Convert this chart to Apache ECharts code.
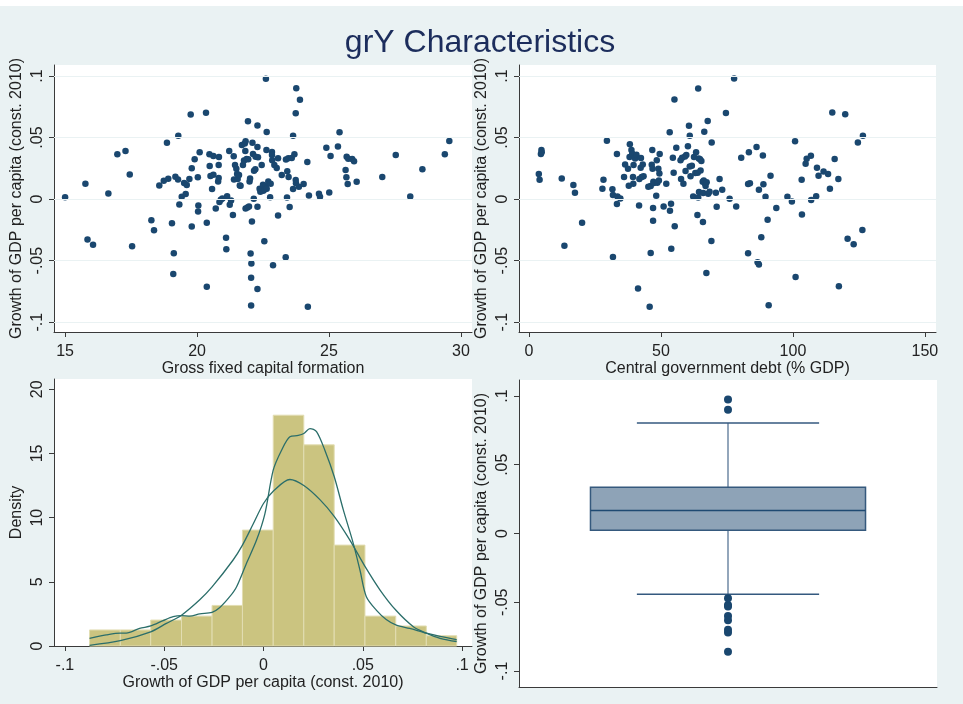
<!DOCTYPE html>
<html>
<head>
<meta charset="utf-8">
<script src="https://cdn.jsdelivr.net/npm/echarts@6/dist/echarts.min.js"></script>
<style>
  html, body { margin: 0; padding: 0; background: #fff; }
  #chart { width: 963px; height: 704px; }
</style>
</head>
<body>
<div id="chart"></div>
<script>
// ---- data ----
// panel 1: gross fixed capital formation vs growth
const capFormation = [15.00,15.77,15.85,16.06,16.64,16.98,17.29,17.45,17.54,18.27,18.37,18.57,18.74,18.86,18.91,19.05,19.12,19.10,19.18,19.28,19.29,19.33,19.42,19.51,19.57,19.61,19.71,19.76,19.80,19.80,19.91,20.03,20.05,20.04,20.10,20.34,20.37,20.37,20.47,20.48,20.51,20.57,20.62,20.62,20.71,20.80,20.82,20.83,20.82,20.85,20.90,20.96,21.10,21.11,21.14,21.22,21.24,21.29,21.36,21.39,21.40,21.44,21.49,21.52,21.54,21.59,21.62,21.65,21.70,21.74,21.78,21.81,21.83,21.84,21.84,21.88,21.91,21.93,21.94,21.97,21.99,22.01,22.03,22.05,22.06,22.05,22.08,22.10,22.12,22.15,22.16,22.21,22.22,22.29,22.29,22.29,22.29,22.31,22.37,22.40,22.45,22.47,22.50,22.51,22.55,22.56,22.59,22.61,22.63,22.64,22.64,22.70,22.77,22.79,22.84,22.84,22.85,22.88,22.93,23.02,23.07,23.07,23.21,23.36,23.37,23.41,23.42,23.46,23.47,23.51,23.59,23.64,23.64,23.69,23.74,23.74,23.76,23.75,23.86,23.90,24.04,24.18,24.20,24.24,24.62,24.66,24.90,25.01,25.06,25.34,25.40,25.63,25.66,25.67,25.71,25.73,25.88,25.95,26.05,27.02,27.53,28.08,28.54,29.39,29.56];
const growthByCap = [0.0016,0.0125,-0.0329,-0.0370,0.0046,0.0364,0.0391,0.0201,-0.0383,-0.0171,-0.0253,0.0111,0.0149,0.0459,0.0166,-0.0196,-0.0440,-0.0609,0.0182,0.0160,0.0514,-0.0043,0.0019,0.0130,0.0041,0.0114,0.0163,0.0688,0.0250,-0.0223,0.0323,0.0177,-0.0052,-0.0101,0.0380,0.0701,-0.0193,-0.0712,0.0364,0.0269,0.0188,0.0082,0.0351,0.0198,-0.0076,0.0144,0.0277,0.0342,0.0171,-0.0024,-0.0005,0.0005,-0.0313,-0.0408,0.0024,0.0391,-0.0046,-0.0011,-0.0130,0.0348,0.0160,0.0277,0.0247,0.0204,0.0163,0.0196,0.0111,0.0109,0.0440,0.0277,0.0313,0.0451,0.0391,0.0470,-0.0076,0.0326,-0.0068,0.0633,0.0323,-0.0060,0.0144,0.0168,-0.0443,-0.0639,-0.0524,-0.0864,-0.0182,0.0459,0.0367,0.0003,0.0231,0.0242,0.0345,0.0598,0.0424,-0.0063,-0.0731,0.0340,0.0084,0.0060,0.0277,0.0082,0.0117,0.0068,-0.0342,0.0079,0.0106,0.0978,0.0399,0.0084,0.0546,0.0144,0.0016,0.0125,0.0383,0.0359,0.0315,-0.0538,0.0277,0.0253,-0.0133,0.0332,0.0196,-0.0473,0.0321,0.0014,0.0226,0.0332,0.0179,-0.0065,0.0334,0.0514,0.0082,0.0364,0.0155,0.0698,0.0902,0.0128,0.0101,0.0807,0.0122,0.0302,-0.0875,0.0030,0.0043,0.0019,0.0418,0.0054,0.0351,0.0427,0.0543,0.0236,0.0177,0.0345,0.0122,0.0329,0.0326,0.0307,0.0141,0.0179,0.0359,0.0022,0.0242,0.0364,0.0473];

// panel 2: central government debt vs growth
const govDebt = [3.7,4.0,4.5,4.7,4.8,12.4,13.4,16.8,17.4,20.1,27.8,28.2,29.5,31.6,31.8,31.8,33.3,33.3,33.5,34.6,36.0,36.4,37.5,37.8,38.1,38.2,38.8,39.1,39.4,39.5,39.6,40.2,40.7,41.3,41.7,41.8,42.3,42.4,42.7,43.1,43.4,45.2,45.7,46.1,46.1,46.5,46.7,46.8,47.0,47.0,47.1,47.3,48.2,48.4,48.6,49.0,49.2,49.4,49.5,51.0,52.0,53.3,53.4,53.8,53.9,54.5,54.8,55.1,55.2,55.8,57.4,57.6,58.0,58.5,59.1,59.3,59.6,60.2,60.6,60.9,60.9,61.2,61.7,62.2,62.5,63.0,63.3,63.8,63.9,64.1,64.1,64.3,64.4,64.8,65.0,65.3,65.8,65.9,66.0,66.2,66.4,66.7,66.9,67.2,67.3,67.7,67.9,68.4,69.1,69.2,70.8,71.1,72.2,73.2,74.6,76.0,77.7,78.5,80.4,83.0,83.0,83.3,83.7,86.2,86.6,87.1,87.1,88.0,88.6,88.8,89.6,90.4,90.8,91.5,93.7,97.9,99.6,100.8,101.0,103.3,103.4,104.8,105.2,106.8,106.9,108.8,109.1,109.7,111.6,113.3,114.0,114.9,115.8,117.2,117.4,119.8,120.7,123.0,124.6,126.3,126.5];
const growthByDebt = [0.0204,0.0157,0.0366,0.0400,0.0380,0.0168,-0.0380,0.0114,0.0052,-0.0193,0.0084,0.0157,0.0475,0.0081,-0.0470,0.0033,0.0366,-0.0040,0.0022,0.0005,0.0179,0.0282,0.0247,0.0109,0.0342,0.0445,0.0400,0.0369,0.0179,0.0125,0.0277,0.0330,0.0360,-0.0727,-0.0052,0.0163,0.0255,0.0334,0.0179,0.0282,0.0185,0.0100,-0.0874,-0.0437,0.0106,0.0280,0.0400,0.0247,-0.0073,-0.0176,0.0141,0.0130,0.0027,0.0315,0.0133,0.0247,0.0152,0.0209,0.0366,-0.0060,0.0125,0.0543,-0.0095,-0.0038,-0.0404,0.0336,0.0214,0.0810,-0.0220,0.0418,0.0315,0.0163,0.0336,0.0125,0.0347,0.0228,0.0358,0.0429,0.0597,0.0266,0.0516,0.0185,0.0271,0.0022,0.0342,0.0212,0.0380,-0.0130,0.0214,0.0900,0.0014,0.0330,0.0057,0.0323,0.0233,0.0310,0.0141,-0.0187,0.0049,0.0152,0.0548,0.0125,0.0106,-0.0600,0.0138,0.0635,0.0043,0.0060,-0.0340,0.0461,0.0052,-0.0062,0.0163,0.0076,0.0700,0.0003,0.0980,-0.0060,0.0336,-0.0440,0.0122,0.0380,0.0128,0.0423,-0.0513,-0.0532,0.0076,-0.0310,0.0355,0.0120,0.0019,-0.0168,-0.0863,0.0190,-0.0073,0.0019,-0.0019,0.0470,-0.0632,0.0157,-0.0125,0.0288,0.0328,0.0353,-0.0008,0.0024,0.0255,0.0190,0.0225,0.0204,0.0084,0.0703,0.0326,0.0163,-0.0708,0.0690,-0.0323,-0.0366,0.0461,-0.0250,0.0516];

// panel 3: histogram of growth with density curves
const histEdges = [-0.0876,-0.0721,-0.0568,-0.0413,-0.0259,-0.0106,0.0049,0.0203,0.0356,0.0511,0.0666,0.0820,0.0973];
const histDensity = [1.25,1.25,2.02,2.33,3.16,9.03,17.98,15.67,7.86,2.33,1.56,0.80];
const normalX = [-0.0876,-0.0721,-0.0568,-0.0489,-0.0413,-0.0321,-0.0259,-0.0153,-0.0106,-0.0052,0.0,0.0049,0.0133,0.0203,0.0284,0.0356,0.0435,0.0511,0.0587,0.0666,0.0755,0.0820,0.0889,0.0973];
const normalY = [0.05,0.41,1.10,1.76,2.40,3.60,4.60,6.70,7.86,9.50,11.10,12.06,12.97,12.50,11.40,10.10,8.25,6.20,4.36,2.80,1.50,1.00,0.60,0.35];
const kernelX = [-0.0876,-0.0792,-0.0721,-0.0691,-0.0624,-0.0568,-0.0506,-0.0455,-0.0413,-0.0371,-0.0321,-0.0259,-0.0220,-0.0170,-0.0136,-0.0086,-0.0035,0.0007,0.0049,0.0091,0.0133,0.0175,0.0203,0.0234,0.0267,0.0309,0.0356,0.0402,0.0452,0.0486,0.0518,0.0568,0.0618,0.0669,0.0736,0.0820,0.0889,0.0973];
const kernelY = [0.60,0.86,1.00,1.00,1.37,1.56,1.97,2.28,2.36,2.33,2.50,2.62,3.00,3.84,4.60,6.43,8.25,10.30,13.70,15.25,16.30,16.40,16.55,16.94,16.70,15.25,13.20,10.60,8.00,5.90,3.84,2.80,2.07,1.63,1.37,1.00,0.75,0.50];

// panel 4: box plot of growth
const boxStats = [-0.0442, 0.0024, 0.0167, 0.0336, 0.0804]; // lower whisker, q1, median, q3, upper whisker
const boxOutliers = [0.0974, 0.0900, -0.0470, -0.0520, -0.0530, -0.0600, -0.0630, -0.0700, -0.0720, -0.0860];

const growthTitle = 'Growth of GDP per capita (const. 2010)';

const FONT = 'Liberation Sans, Arial, sans-serif';
const NAVY = '#1a476f';
const AXIS = '#3a3a3a';
const GRIDC = '#eaf2f3';

const stataNum = v => {
  const r = Math.round(v * 1000) / 1000;
  if (r === 0) return '0';
  return String(r).replace(/^(-?)0\./, '$1.');
};

const growthTicks = [-0.1, -0.05, 0, 0.05, 0.1];

function xAx(grid, min, max, ticks, name, opts) {
  return Object.assign({
    type: 'value', gridIndex: grid, min, max,
    name, nameLocation: 'middle', nameGap: 29,
    nameTextStyle: { fontSize: 16, color: '#222', fontFamily: FONT },
    axisLine: { show: true, onZero: false, lineStyle: { color: AXIS, width: 1 } },
    axisTick: { show: true, length: 5, customValues: ticks, lineStyle: { color: AXIS } },
    axisLabel: { customValues: ticks, formatter: stataNum, fontSize: 16, color: '#222', fontFamily: FONT, margin: 12 },
    splitLine: { show: false }
  }, opts || {});
}
function yAx(grid, min, max, ticks, name) {
  return {
    type: 'value', gridIndex: grid, min, max,
    name, nameLocation: 'middle', nameGap: 29, nameRotate: 90,
    nameTextStyle: { fontSize: 16, color: '#222', fontFamily: FONT },
    axisLine: { show: true, onZero: false, lineStyle: { color: AXIS, width: 1 } },
    axisTick: { show: true, length: 5, customValues: ticks, lineStyle: { color: AXIS } },
    axisLabel: { customValues: ticks, formatter: stataNum, rotate: 90, fontSize: 16, color: '#222', fontFamily: FONT, margin: 8 },
    splitLine: { show: false }
  };
}
function gridLines(xi, yi, vals) {
  return {
    type: 'line', xAxisIndex: xi, yAxisIndex: yi, data: [], z: 1, silent: true,
    markLine: {
      silent: true, symbol: 'none', label: { show: false },
      lineStyle: { color: GRIDC, width: 1.2, type: 'solid' },
      data: vals.map(v => ({ yAxis: v }))
    }
  };
}

const chart = echarts.init(document.getElementById('chart'));

const option = {
  backgroundColor: '#eaf2f3',
  animation: false,
  title: {
    text: 'grY Characteristics', left: 475, top: 22, textAlign: 'center',
    textStyle: { fontSize: 32, fontWeight: 'normal', color: '#1c2d5c', fontFamily: FONT }
  },
  graphic: [{ type: 'rect', shape: { x: 0, y: 0, width: 963, height: 6 }, style: { fill: '#fff' }, silent: true }],
  grid: [
    { left: 54, top: 65, width: 418, height: 267, show: true, backgroundColor: '#fff', borderWidth: 0 },
    { left: 519, top: 65, width: 417, height: 267, show: true, backgroundColor: '#fff', borderWidth: 0 },
    { left: 54, top: 379, width: 418, height: 267, show: true, backgroundColor: '#fff', borderWidth: 0 },
    { left: 519, top: 380, width: 418, height: 307, show: true, backgroundColor: '#fff', borderWidth: 0 }
  ],
  xAxis: [
    xAx(0, 14.58, 30.42, [15, 20, 25, 30], 'Gross fixed capital formation'),
    xAx(1, -3.8, 154.2, [0, 50, 100, 150], 'Central government debt (% GDP)'),
    xAx(2, -0.1055, 0.105, growthTicks, growthTitle),
    xAx(3, 0, 1, [], '', { axisTick: { show: false }, axisLabel: { show: false } })
  ],
  yAxis: [
    yAx(0, -0.108, 0.109, growthTicks, growthTitle),
    yAx(1, -0.108, 0.109, growthTicks, growthTitle),
    yAx(2, 0, 20.8, [0, 5, 10, 15, 20], 'Density'),
    yAx(3, -0.1116, 0.1116, growthTicks, growthTitle)
  ],
  series: [
    gridLines(0, 0, growthTicks),
    {
      type: 'scatter', xAxisIndex: 0, yAxisIndex: 0, z: 3,
      symbolSize: 6.5, itemStyle: { color: NAVY, opacity: 1 },
      data: capFormation.map((x, i) => [x, growthByCap[i]])
    },
    gridLines(1, 1, growthTicks),
    {
      type: 'scatter', xAxisIndex: 1, yAxisIndex: 1, z: 3,
      symbolSize: 6.5, itemStyle: { color: NAVY, opacity: 1 },
      data: govDebt.map((x, i) => [x, growthByDebt[i]])
    },
    {
      type: 'custom', xAxisIndex: 2, yAxisIndex: 2, z: 2,
      data: histDensity.map((h, i) => [histEdges[i], histEdges[i + 1], h]),
      renderItem: (params, api) => {
        const p0 = api.coord([api.value(0), 0]);
        const p1 = api.coord([api.value(1), api.value(2)]);
        return {
          type: 'rect',
          shape: { x: p0[0], y: p1[1], width: p1[0] - p0[0], height: p0[1] - p1[1] },
          style: { fill: '#cbc480', stroke: '#e2ddb2', lineWidth: 1 }
        };
      }
    },
    {
      type: 'line', xAxisIndex: 2, yAxisIndex: 2, z: 4, smooth: 0.3, showSymbol: false,
      lineStyle: { color: '#2b6e6a', width: 1.3 },
      data: normalX.map((x, i) => [x, normalY[i]])
    },
    {
      type: 'line', xAxisIndex: 2, yAxisIndex: 2, z: 4, smooth: 0.3, showSymbol: false,
      lineStyle: { color: '#2b6e6a', width: 1.3 },
      data: kernelX.map((x, i) => [x, kernelY[i]])
    },
    {
      type: 'custom', xAxisIndex: 3, yAxisIndex: 3, z: 2,
      data: [[0.5].concat(boxStats)],
      renderItem: (params, api) => {
        const xc = api.value(0);
        const boxL = api.coord([xc - 0.329, 0])[0], boxR = api.coord([xc + 0.329, 0])[0];
        const capL = api.coord([xc - 0.218, 0])[0], capR = api.coord([xc + 0.218, 0])[0];
        const cx = api.coord([xc, 0])[0];
        const yv = k => api.coord([xc, api.value(k)])[1];
        const lo = yv(1), q1 = yv(2), med = yv(3), q3 = yv(4), hi = yv(5);
        const ln = (x1, y1, x2, y2, c) => ({
          type: 'line', shape: { x1, y1, x2, y2 }, style: { stroke: c, lineWidth: 1.5 }
        });
        return {
          type: 'group',
          children: [
            ln(cx, hi, cx, q3, '#6f88a4'),
            ln(cx, q1, cx, lo, '#6f88a4'),
            ln(capL, hi, capR, hi, '#34597f'),
            ln(capL, lo, capR, lo, '#34597f'),
            { type: 'rect', shape: { x: boxL, y: q3, width: boxR - boxL, height: q1 - q3 },
              style: { fill: '#8ea3b7', stroke: '#35597d', lineWidth: 1.5 } },
            ln(boxL, med, boxR, med, '#1f4a72')
          ]
        };
      }
    },
    {
      type: 'scatter', xAxisIndex: 3, yAxisIndex: 3, z: 3,
      symbolSize: 8, itemStyle: { color: NAVY, opacity: 1 },
      data: boxOutliers.map(v => [0.5, v])
    }
  ]
};

chart.setOption(option);
</script>
</body>
</html>
